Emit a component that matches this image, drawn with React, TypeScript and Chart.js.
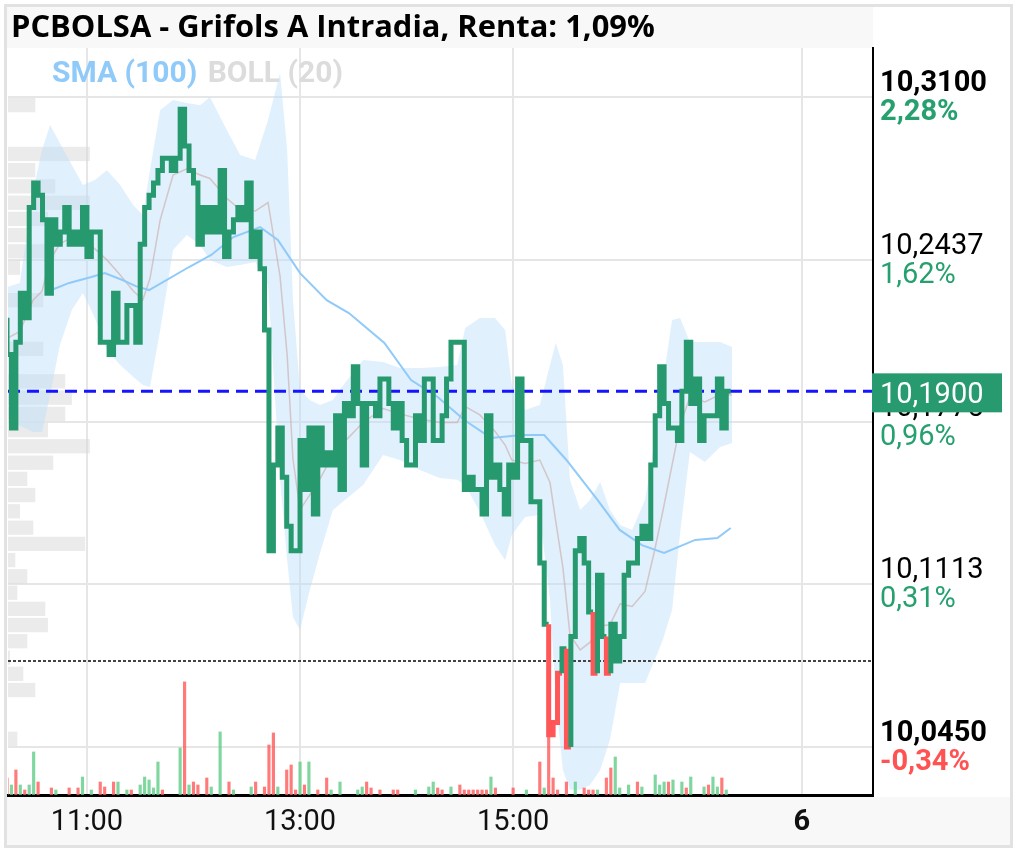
import React, { useEffect, useRef } from 'react';
import { Chart, registerables } from 'chart.js';

Chart.register(...registerables);

const TITLE = 'PCBOLSA - Grifols A Intradia, Renta: 1,09%';
const LEGEND_SMA = 'SMA (100)';
const LEGEND_BOLL = 'BOLL (20)';

const PREV_CLOSE = 10.08;
const LAST_PRICE = 10.19;
const LAST_LABEL = '10,1900';

const Y_MIN = 10.0254;
const Y_MAX = 10.33;
const X_MIN = 0.225;
const X_MAX = 195.05;

const Y_TICKS = [10.31, 10.24375, 10.1775, 10.11125, 10.045];
const Y_LABELS = ['10,3100', '10,2437', '10,1775', '10,1113', '10,0450'];
const Y_PCT = ['2,28%', '1,62%', '0,96%', '0,31%', '-0,34%'];

// x positions are sample indices (one sample every 2.5 minutes from 10:15)
const X_TICKS = [18, 66, 114, 179];
const X_LABELS = ['11:00', '13:00', '15:00', '6'];

const PRICE = [
  10.220, 10.205, 10.175, 10.210, 10.230, 10.220, 10.265, 10.275, 10.270, 10.260,
  10.230, 10.260, 10.250, 10.255, 10.265, 10.250, 10.255, 10.250, 10.265, 10.245,
  10.255, 10.255, 10.210, 10.210, 10.205, 10.230, 10.210, 10.210, 10.225, 10.225,
  10.210, 10.250, 10.265, 10.270, 10.275, 10.280, 10.285, 10.285, 10.280, 10.285,
  10.305, 10.290, 10.280, 10.275, 10.250, 10.265, 10.255, 10.265, 10.255, 10.280,
  10.245, 10.255, 10.260, 10.265, 10.260, 10.275, 10.245, 10.255, 10.240, 10.215,
  10.125, 10.160, 10.175, 10.155, 10.135, 10.125, 10.125, 10.170, 10.150, 10.175,
  10.140, 10.175, 10.160, 10.165, 10.160, 10.180, 10.150, 10.185, 10.180, 10.200,
  10.185, 10.160, 10.185, 10.185, 10.180, 10.195, 10.195, 10.185, 10.175, 10.185,
  10.170, 10.160, 10.160, 10.180, 10.170, 10.195, 10.195, 10.170, 10.170, 10.180,
  10.195, 10.210, 10.210, 10.210, 10.150, 10.155, 10.150, 10.150, 10.140, 10.180,
  10.155, 10.160, 10.150, 10.140, 10.160, 10.155, 10.195, 10.170, 10.170, 10.145,
  10.145, 10.120, 10.095, 10.050, 10.055, 10.075, 10.085, 10.045, 10.090, 10.125,
  10.130, 10.120, 10.100, 10.075, 10.115, 10.090, 10.075, 10.095, 10.080, 10.090,
  10.115, 10.120, 10.120, 10.130, 10.135, 10.130, 10.160, 10.180, 10.200, 10.185,
  10.175, 10.175, 10.170, 10.190, 10.210, 10.185, 10.195, 10.170, 10.180, 10.180,
  10.180, 10.195, 10.175, 10.190,
];

const SMA_IDX = [10, 14, 19, 22, 26, 29, 32, 41, 46, 51, 57, 61, 66, 72, 77, 85, 91, 97, 103, 109, 116, 121, 126, 133, 138, 143, 148, 155, 160, 163];
const SMA_VAL = [
  10.2313, 10.2342, 10.2366, 10.2382, 10.2354, 10.2329, 10.2313, 10.2407, 10.2456, 10.2529,
  10.2570, 10.2517, 10.2382, 10.2272, 10.2219, 10.2097, 10.1946, 10.1877, 10.1783, 10.1710,
  10.1722, 10.1722, 10.1620, 10.1457, 10.1335, 10.1273, 10.1241, 10.1294, 10.1302, 10.1343,
];

const BAND_IDX = [
  0, 2.9, 5.9, 7.9, 9.7, 11.9, 14.6, 17.1, 19.8, 22.5,
  25.5, 28.4, 30.6, 32.2, 34.5, 37.4, 40.5, 43.5, 45.7, 49.5,
  52.5, 55.9, 58.8, 61.5, 63.1, 64.4, 66.0, 68.2, 70.5, 73.4,
  76.1, 80.2, 84.7, 88.5, 93.0, 97.5, 101.4, 103.2, 106.5, 109.9,
  112.2, 113.7, 116.7, 120.0, 122.3, 123.6, 125.2, 126.8, 129.1, 131.3,
  133.6, 135.8, 138.1, 140.8, 143.7, 145.9, 147.7, 149.8, 151.6, 153.8,
  157.2, 160.6, 163.3,
];
const BAND_UPPER = [
  10.2325, 10.2342, 10.2721, 10.2884, 10.2986, 10.2913, 10.2823, 10.2741, 10.2762, 10.2802,
  10.2741, 10.2660, 10.2619, 10.2802, 10.3047, 10.3088, 10.3076, 10.3067, 10.3100, 10.2966,
  10.2864, 10.2843, 10.3006, 10.3198, 10.2884, 10.2272, 10.1906, 10.1865, 10.1844, 10.1865,
  10.1934, 10.2028, 10.2020, 10.1995, 10.1995, 10.1999, 10.2007, 10.2158, 10.2199, 10.2199,
  10.2150, 10.1926, 10.1824, 10.1844, 10.2007, 10.2097, 10.2007, 10.1539, 10.1416, 10.1457,
  10.1530, 10.1416, 10.1355, 10.1335, 10.1457, 10.1702, 10.1934, 10.2191, 10.2199, 10.2101,
  10.2101, 10.2101, 10.2081,
];
const BAND_LOWER = [
  10.1790, 10.1760, 10.1734, 10.1734, 10.1885, 10.2089, 10.2232, 10.2301, 10.2199, 10.2069,
  10.2007, 10.1959, 10.1926, 10.1918, 10.2150, 10.2476, 10.2537, 10.2497, 10.2436, 10.2407,
  10.2415, 10.2427, 10.2334, 10.1539, 10.1212, 10.0980, 10.0927, 10.1090, 10.1241, 10.1416,
  10.1457, 10.1518, 10.1640, 10.1620, 10.1579, 10.1547, 10.1539, 10.1518, 10.1408, 10.1274,
  10.1212, 10.1314, 10.1388, 10.1396, 10.1049, 10.0642, 10.0356, 10.0275, 10.0275, 10.0295,
  10.0356, 10.0479, 10.0711, 10.0711, 10.0711, 10.0805, 10.0886, 10.1009, 10.1322, 10.1653,
  10.1612, 10.1673, 10.1689,
];
const BAND_MID = [
  10.2116, 10.2144, 10.2273, 10.2309, 10.2436, 10.2501, 10.2528, 10.2521, 10.2481, 10.2436,
  10.2374, 10.2310, 10.2273, 10.2360, 10.2599, 10.2782, 10.2807, 10.2782, 10.2768, 10.2687,
  10.2640, 10.2635, 10.2670, 10.2369, 10.2048, 10.1626, 10.1417, 10.1478, 10.1543, 10.1641,
  10.1696, 10.1773, 10.1830, 10.1808, 10.1787, 10.1773, 10.1773, 10.1838, 10.1804, 10.1737,
  10.1681, 10.1620, 10.1606, 10.1620, 10.1528, 10.1370, 10.1182, 10.0907, 10.0846, 10.0876,
  10.0943, 10.0948, 10.1033, 10.1023, 10.1084, 10.1254, 10.1410, 10.1600, 10.1761, 10.1877,
  10.1857, 10.1887, 10.1885,
];

const VOL_IDX = [
  0, 1, 2, 3, 4, 5, 6, 7, 10, 11,
  14, 16, 17, 19, 21, 22, 24, 25, 27, 28,
  30, 31, 32, 33, 34, 35, 39, 40, 41, 42,
  43, 45, 46, 48, 50, 51, 55, 56, 58, 59,
  60, 61, 63, 64, 65, 66, 67, 68, 70, 72,
  73, 75, 79, 80, 81, 82, 84, 87, 88, 92,
  95, 96, 97, 98, 100, 102, 103, 104, 105, 106,
  107, 108, 109, 110, 114, 117, 120, 121, 122, 123,
  124, 126, 128, 130, 131, 132, 133, 135, 136, 137,
  138, 140, 142, 143, 146, 147, 148, 149, 150, 152,
  153, 154, 157, 158, 159, 160, 161, 162,
];
const VOL_VAL = [
  2280, 1340, 3350, 1340, 670, 1340, 5760, 1740, 940, 670,
  940, 940, 2410, 670, 1740, 1070, 1740, 1740, 670, 670,
  1340, 2410, 2010, 940, 4420, 670, 6300, 15140, 1340, 1740,
  1340, 2280, 1070, 8440, 1740, 670, 1070, 1740, 1070, 6700,
  8310, 1070, 3350, 4020, 670, 4420, 1340, 4420, 670, 2280,
  670, 1740, 670, 1070, 1740, 940, 670, 670, 670, 670,
  1070, 1740, 940, 670, 1070, 1340, 670, 670, 670, 670,
  670, 670, 2410, 940, 940, 670, 4420, 940, 7770, 2280,
  670, 1740, 1740, 940, 670, 670, 670, 2280, 3620, 5090,
  940, 1340, 1740, 1070, 2680, 1340, 1740, 1740, 2010, 1740,
  940, 2410, 1070, 1340, 2410, 1070, 2280, 670,
];
const VOL_UP = [
  0, 1, 0, 1, 0, 1, 1, 0, 0, 1,
  0, 0, 1, 1, 0, 0, 0, 1, 1, 0,
  1, 1, 1, 1, 1, 0, 1, 0, 1, 0,
  0, 0, 1, 1, 0, 1, 1, 0, 0, 0,
  0, 1, 0, 0, 0, 1, 0, 1, 0, 0,
  1, 1, 1, 1, 0, 0, 0, 0, 0, 1,
  1, 1, 0, 0, 1, 0, 0, 0, 0, 0,
  0, 0, 1, 0, 0, 1, 0, 1, 0, 0,
  0, 0, 1, 0, 0, 0, 1, 0, 0, 1,
  1, 1, 0, 1, 1, 1, 1, 0, 1, 1,
  0, 1, 1, 0, 1, 1, 0, 1,
];

// volume-by-price profile (row centre price, volume in thousands)
const PROF_ROW = 0.006625;
const PROF_PRICE = [
  10.3067, 10.3001, 10.2934, 10.2868, 10.2802, 10.2736, 10.2669, 10.2603, 10.2537, 10.2471,
  10.2404, 10.2338, 10.2272, 10.2206, 10.2139, 10.2073, 10.2007, 10.1941, 10.1874, 10.1808,
  10.1742, 10.1676, 10.1609, 10.1543, 10.1477, 10.1411, 10.1344, 10.1278, 10.1212, 10.1146,
  10.1079, 10.1013, 10.0947, 10.0881, 10.0814, 10.0748, 10.0682, 10.0616, 10.0549, 10.0483,
];
const PROF_VOL = [
  41, 0, 0, 123, 41, 71, 123, 60, 29, 71,
  18, 0, 53, 0, 0, 53, 0, 86, 96, 86,
  60, 123, 68, 29, 41, 18, 38, 116, 11, 29,
  14, 56, 60, 29, 3, 23, 41, 0, 0, 14,
];

const GREEN = '#27996e';
const RED = '#ff5757';
const FONT = 'Roboto';

export default function App() {
  const ref = useRef<HTMLCanvasElement>(null);

  useEffect(() => {
    const canvas = ref.current;
    if (!canvas) return;
    Chart.defaults.font.family = FONT;

    const decor = {
      id: 'decor',
      beforeDraw(chart: any) {
        const { ctx, chartArea: a, width, height } = chart;
        ctx.save();
        ctx.fillStyle = '#ffffff';
        ctx.fillRect(0, 0, width, height);
        ctx.fillStyle = '#f8f8f8';
        ctx.fillRect(0, 0, a.right, a.top);
        ctx.fillRect(0, a.bottom + 2, width, height - a.bottom - 2);
        ctx.fillStyle = '#000';
        ctx.font = 'bold 30.9px "Open Sans"';
        ctx.textBaseline = 'alphabetic';
        ctx.textAlign = 'left';
        ctx.fillText(TITLE, 4, 30);
        ctx.restore();
      },
      beforeDatasetsDraw(chart: any) {
        const { ctx, chartArea: a } = chart;
        const ys = chart.scales.y;
        const xs = chart.scales.xProf;
        ctx.save();
        ctx.fillStyle = 'rgba(215,215,215,0.5)';
        PROF_PRICE.forEach((p, k) => {
          const v = PROF_VOL[k];
          if (!v) return;
          const y0 = ys.getPixelForValue(p + PROF_ROW / 2);
          const y1 = ys.getPixelForValue(p - PROF_ROW / 2);
          const x1 = xs.getPixelForValue(v);
          ctx.fillRect(a.left, y0 + 1, x1 - a.left, y1 - y0 - 2);
        });
        ctx.restore();
      },
      afterDatasetsDraw(chart: any) {
        const { ctx } = chart;
        ctx.save();
        ctx.font = `bold 30px ${FONT}`;
        ctx.textBaseline = 'alphabetic';
        ctx.textAlign = 'left';
        ctx.fillStyle = '#90caf9';
        ctx.fillText(LEGEND_SMA, 45, 75);
        const w = ctx.measureText(LEGEND_SMA + ' ').width;
        ctx.fillStyle = '#dcdcdc';
        ctx.fillText(LEGEND_BOLL, 45 + w + 3, 75);
        ctx.restore();
      },
      afterDraw(chart: any) {
        const { ctx, chartArea: a } = chart;
        const ys = chart.scales.y;
        const x0 = a.right + 7;
        ctx.save();
        ctx.textBaseline = 'alphabetic';
        ctx.textAlign = 'left';
        Y_TICKS.forEach((v, i) => {
          const py = ys.getPixelForValue(v);
          const bold = i === 0 || i === Y_TICKS.length - 1;
          ctx.font = `${bold ? 'bold ' : ''}29px ${FONT}`;
          ctx.fillStyle = '#000';
          ctx.fillText(Y_LABELS[i], x0, py - 6);
          ctx.fillStyle = Y_PCT[i].startsWith('-') ? '#ff5252' : '#26a06f';
          ctx.fillText(Y_PCT[i], x0, py + 23);
        });
        const pc = ys.getPixelForValue(LAST_PRICE);
        ctx.fillStyle = '#279b6f';
        ctx.fillRect(a.right - 1, pc - 18, 130, 39);
        ctx.fillStyle = '#fff';
        ctx.font = `29px ${FONT}`;
        ctx.fillText(LAST_LABEL, x0, pc + 12);
        ctx.restore();
      },
    };

    const chart = new Chart(canvas, {
      type: 'line',
      data: {
        datasets: [
          {
            data: BAND_IDX.map((x, i) => ({ x, y: BAND_UPPER[i] })),
            borderColor: 'rgba(0,0,0,0)',
            borderWidth: 0,
            pointRadius: 0,
            fill: '+1',
            backgroundColor: 'rgba(187,222,251,0.45)',
            order: 10,
          },
          {
            data: BAND_IDX.map((x, i) => ({ x, y: BAND_LOWER[i] })),
            borderColor: 'rgba(0,0,0,0)',
            borderWidth: 0,
            pointRadius: 0,
            fill: false,
            order: 10,
          },
          {
            data: BAND_IDX.map((x, i) => ({ x, y: BAND_MID[i] })),
            borderColor: 'rgba(200,170,165,0.6)',
            borderWidth: 1.5,
            pointRadius: 0,
            fill: false,
            order: 9,
          },
          {
            data: SMA_IDX.map((x, i) => ({ x, y: SMA_VAL[i] })),
            borderColor: '#90caf9',
            borderWidth: 2,
            pointRadius: 0,
            fill: false,
            order: 8,
          },
          {
            type: 'bar',
            data: VOL_IDX.map((x, i) => ({ x, y: VOL_VAL[i] })),
            backgroundColor: VOL_UP.map((u) => (u ? 'rgba(95,205,135,0.8)' : 'rgba(255,90,90,0.8)')),
            barThickness: 2.5,
            yAxisID: 'yVol',
            order: 7,
          } as any,
          {
            data: [{ x: X_MIN, y: PREV_CLOSE }, { x: X_MAX, y: PREV_CLOSE }],
            borderColor: '#444',
            borderWidth: 2,
            borderDash: [3, 2],
            pointRadius: 0,
            fill: false,
            order: 6,
          },
          {
            data: [{ x: X_MIN, y: LAST_PRICE }, { x: X_MAX, y: LAST_PRICE }],
            borderColor: '#1414ff',
            borderWidth: 3,
            borderDash: [12, 7],
            pointRadius: 0,
            fill: false,
            order: 5,
          },
          {
            data: PRICE.map((y, x) => ({ x, y })),
            borderColor: GREEN,
            borderWidth: 5,
            stepped: 'after',
            pointRadius: 0,
            fill: false,
            borderCapStyle: 'butt',
            borderJoinStyle: 'miter',
            segment: {
              borderColor: (c: any) => (PRICE[c.p1DataIndex] < PREV_CLOSE ? RED : GREEN),
            },
            order: 1,
          },
        ] as any,
      },
      options: {
        animation: false,
        responsive: false,
        devicePixelRatio: 1,
        events: [],
        layout: { padding: { left: 1, top: 41, right: 0, bottom: 0 } },
        plugins: { legend: { display: false }, tooltip: { enabled: false }, title: { display: false } },
        scales: {
          x: {
            type: 'linear',
            position: 'bottom',
            min: X_MIN,
            max: X_MAX,
            offset: false,
            grid: { color: '#e6e6e6', lineWidth: 2, drawTicks: false, offset: false },
            border: { color: '#000', width: 3 },
            afterBuildTicks: (s: any) => {
              s.ticks = X_TICKS.map((value) => ({ value }));
            },
            afterFit: (s: any) => {
              s.height = 50;
            },
            ticks: {
              autoSkip: false,
              maxRotation: 0,
              padding: 10,
              color: '#111',
              font: (c: any) => ({
                family: FONT,
                size: 29,
                weight: c.tick && c.tick.label === '6' ? 'bold' : 'normal',
              }),
              callback: (_v: any, i: number) => X_LABELS[i],
            },
          },
          y: {
            type: 'linear',
            position: 'right',
            min: Y_MIN,
            max: Y_MAX,
            grid: { color: '#e6e6e6', lineWidth: 2, drawTicks: false },
            border: { color: '#000', width: 2 },
            afterBuildTicks: (s: any) => {
              s.ticks = Y_TICKS.map((value) => ({ value }));
            },
            afterFit: (s: any) => {
              s.width = 137;
            },
            ticks: { display: false },
          },
          yVol: { type: 'linear', display: false, min: 0, max: 100000, position: 'left' },
          xProf: { type: 'linear', display: false, min: 0, max: 1300, position: 'bottom' },
        },
      } as any,
      plugins: [decor],
    });

    return () => chart.destroy();
  }, []);

  return (
    <div
      style={{
        position: 'absolute',
        left: 4,
        top: 4,
        width: 1009,
        height: 844,
        boxSizing: 'border-box',
        border: '3px solid #e2e2e2',
        background: '#fff',
      }}
    >
      <canvas ref={ref} width={1003} height={838} style={{ display: 'block', width: 1003, height: 838 }} />
    </div>
  );
}
